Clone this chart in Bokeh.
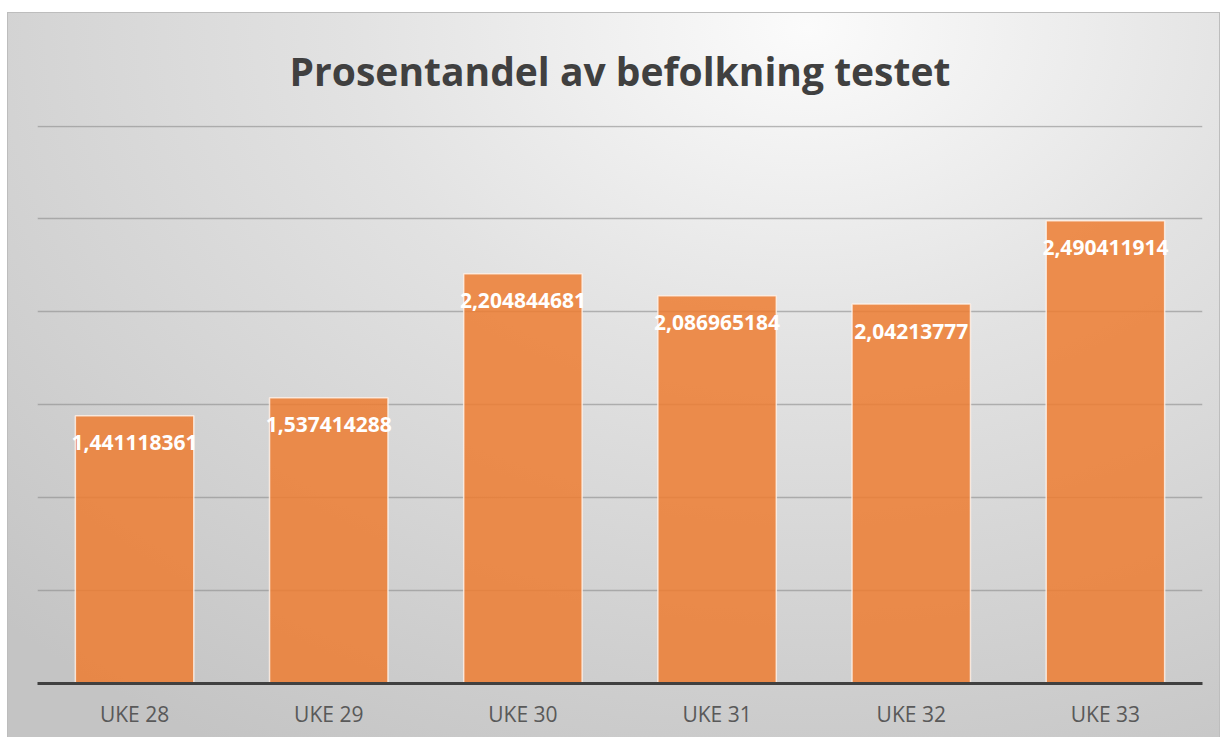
from bokeh.plotting import figure
from bokeh.models import ColumnDataSource, LabelSet, SingleIntervalTicker, FactorRange, Range1d
from bokeh.core.properties import value
from bokeh.embed import file_html
from bokeh.resources import INLINE

categories = ["UKE 28", "UKE 29", "UKE 30", "UKE 31", "UKE 32", "UKE 33"]
values = [1.441118361, 1.537414288, 2.204844681, 2.086965184, 2.04213777, 2.490411914]
labels = ["1,441118361", "1,537414288", "2,204844681", "2,086965184", "2,04213777", "2,490411914"]
title_text = "Prosentandel av befolkning testet"

src = ColumnDataSource(dict(cat=categories, val=values, lab=labels))

p = figure(
    x_range=FactorRange(*categories, range_padding=0),
    y_range=Range1d(0, 3.003),
    width=1211, height=724,
    output_backend="svg", toolbar_location=None,
    min_border_left=29, min_border_right=17, min_border_top=112, min_border_bottom=54,
)
p.border_fill_color = None
p.background_fill_color = None
p.outline_line_color = None
p.styles = {
    "margin-top": "13px",
    "margin-left": "8px",
    "background": "radial-gradient(ellipse 95% 115% at 66% 2%, #fbfbfb 0%, #e2e2e2 40%, #c4c4c4 100%)",
    "outline": "1px solid #bdbdbd",
}

p.title.text = title_text
p.title.align = "center"
p.title.vertical_align = "top"
p.title.text_font = "Open Sans"
p.title.text_font_style = "bold"
p.title.text_font_size = "39px"
p.title.text_line_height = 1.15
p.title.text_color = "#404040"
p.title.standoff = 54

p.vbar(x="cat", top="val", width=0.61, source=src,
       fill_color="#ED7D31", fill_alpha=0.85,
       line_color="#fff4ec", line_alpha=0.8, line_width=1.5)

p.add_layout(LabelSet(x="cat", y="val", text="lab", source=src,
                      y_offset=-27, text_align="center", text_baseline="middle",
                      text_color="white", text_font=value("Open Sans"), text_font_style="bold",
                      text_font_size="21px"))

p.yaxis.visible = False
p.yaxis.ticker = SingleIntervalTicker(interval=0.5)
p.ygrid.ticker = SingleIntervalTicker(interval=0.5)
p.ygrid.grid_line_color = "#8c8c8c"
p.ygrid.grid_line_alpha = 0.6
p.ygrid.grid_line_width = 1.5
p.xgrid.grid_line_color = None

p.xaxis.axis_line_color = "#404040"
p.xaxis.axis_line_width = 3
p.xaxis.major_tick_line_color = None
p.xaxis.minor_tick_line_color = None
p.xaxis.major_label_text_font = "Open Sans"
p.xaxis.major_label_text_font_size = "21px"
p.xaxis.major_label_text_color = "#595959"
p.xaxis.major_label_standoff = 10

open("out.html", "w").write(file_html(p, INLINE))
